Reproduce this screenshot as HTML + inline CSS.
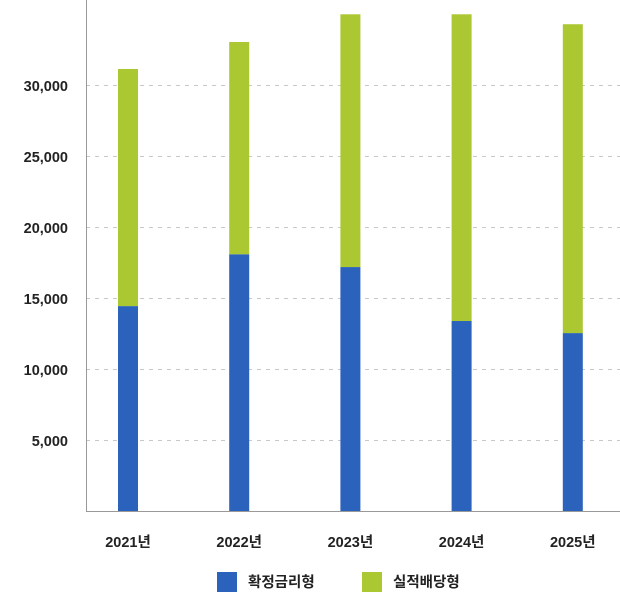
<!DOCTYPE html>
<html><head><meta charset="utf-8"><style>
html,body{margin:0;padding:0;background:#fff;}
svg text{font-family:"Liberation Sans","Noto Sans CJK KR",sans-serif;font-weight:bold;fill:#222;}
</style></head><body>
<svg id="chart" width="620" height="598" xmlns="http://www.w3.org/2000/svg"></svg>
<script>
const categories=["2021년","2022년","2023년","2024년","2025년"];
const fixedRate=[14500,18150,17250,13450,12600];
const performance=[16700,14950,17800,21600,21750];
const yTicks=[5000,10000,15000,20000,25000,30000];
const yTickLabels=["5,000","10,000","15,000","20,000","25,000","30,000"];
const svg=document.getElementById('chart');
const NS='http://www.w3.org/2000/svg';
const y0=512, pxPer=71/5000;
function y(v){return y0-v*pxPer;}
function x(i){return 128+i*111.2;}
function mk(t,a){const e=document.createElementNS(NS,t);for(const k in a)e.setAttribute(k,a[k]);svg.appendChild(e);return e;}
yTicks.forEach((t,i)=>{
  const g=mk('line',{x1:86,x2:620,y1:y(t)-0.5,y2:y(t)-0.5,stroke:'#c8c8c8','stroke-dasharray':'4,5','stroke-width':1});
  
  
  const l=mk('text',{x:68,y:y(t)+5,'text-anchor':'end','font-size':14.5});
  l.textContent=yTickLabels[i];
  
  
});
categories.forEach((c,i)=>{
  const b=mk('rect',{x:x(i)-10,y:y(fixedRate[i]),width:20,height:fixedRate[i]*pxPer,fill:'#2b62bb'});
  
  
  const g=mk('rect',{x:x(i)-10,y:y(fixedRate[i]+performance[i]),width:20,height:performance[i]*pxPer,fill:'#abc731'});
  
  
  const t=mk('text',{x:x(i),y:547,'text-anchor':'middle','font-size':14.5});
  t.textContent=c;
  
  
});
const ax=mk('path',{d:'M86.5 0 V511.5 H620',fill:'none',stroke:'#999','stroke-width':1});


const legend=[["확정금리형","#2b62bb",217],["실적배당형","#abc731",362]];
legend.forEach(l=>{
  const r=mk('rect',{x:l[2],y:572,width:20,height:20,fill:l[1]});
  
  
  const t=mk('text',{x:l[2]+31,y:587,'font-size':14.5});
  t.textContent=l[0];
  
  
});
</script>
</body></html>
